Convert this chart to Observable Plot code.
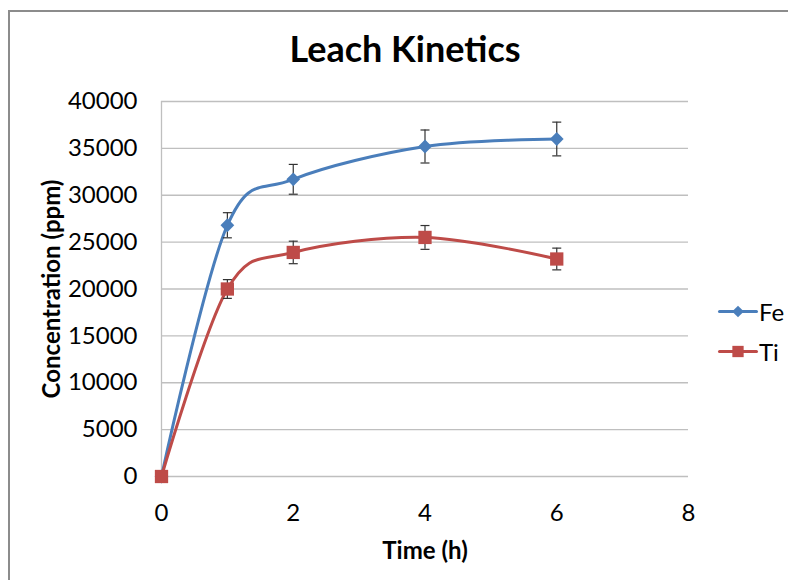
<!DOCTYPE html>
<html>
<head>
<meta charset="utf-8">
<script src="https://cdn.jsdelivr.net/npm/d3@7"></script>
<script src="https://cdn.jsdelivr.net/npm/@observablehq/plot@0.6"></script>
<style>
  html, body { margin: 0; padding: 0; background: #fff; }
  body { width: 788px; height: 580px; position: relative; overflow: hidden; font-family: Lato, "Open Sans", sans-serif; }
  #frame { position: absolute; left: 8px; top: 10px; width: 800px; height: 600px; border-left: 2px solid #8c8c8c; border-top: 2px solid #8c8c8c; box-sizing: border-box; }
  #title { position: absolute; left: 0; width: 810px; top: 26px; text-align: center; font-weight: bold; font-size: 36px; color: #000; white-space: nowrap; }
  #chart { position: absolute; left: 0; top: 0; }
  #legend { position: absolute; left: 719px; top: 291px; font-size: 24px; color: #000; white-space: nowrap; }
  .item { display: flex; align-items: center; height: 40px; }
  .item svg { margin-right: 3px; }
</style>
</head>
<body>
<div id="frame"></div>
<div id="chart"></div>
<div id="title">Leach Kinetics</div>
<div id="legend"></div>
<script>
const times = [0, 1, 2, 4, 6];
const feValues = [0, 26800, 31700, 35200, 36000];
const tiValues = [0, 20000, 23900, 25500, 23200];
const feErrors = [0, 1340, 1590, 1760, 1800];
const tiErrors = [0, 1000, 1200, 1270, 1160];
const xTicks = [0, 2, 4, 6, 8];
const yTicks = [0, 5000, 10000, 15000, 20000, 25000, 30000, 35000, 40000];
const seriesNames = ["Fe", "Ti"];
const seriesColors = ["#4A7EBB", "#BE4B48"];

const fe = times.map((t, i) => ({t, v: feValues[i], e: feErrors[i]}));
const ti = times.map((t, i) => ({t, v: tiValues[i], e: tiErrors[i]}));

const capSymbol = {draw(ctx) { ctx.moveTo(-4.5, 0); ctx.lineTo(4.5, 0); }};

function series(data, color, symbol, r) {
  const withErr = data.filter(d => d.e > 0);
  return [
    Plot.line(data, {x: "t", y: "v", stroke: color, strokeWidth: 3, curve: "cardinal"}),
    Plot.ruleX(withErr, {x: "t", y1: d => d.v - d.e, y2: d => d.v + d.e, stroke: "#333", strokeWidth: 1.2}),
    Plot.dot(withErr, {x: "t", y: d => d.v + d.e, symbol: capSymbol, stroke: "#333", strokeWidth: 1.2}),
    Plot.dot(withErr, {x: "t", y: d => d.v - d.e, symbol: capSymbol, stroke: "#333", strokeWidth: 1.2}),
    Plot.dot(data, {x: "t", y: "v", symbol, r, fill: color, stroke: "none"})
  ];
}

const chart = Plot.plot({
  width: 788,
  height: 580,
  marginLeft: 161,
  marginRight: 100,
  marginTop: 101,
  marginBottom: 104,
  style: {fontFamily: "Lato, 'Open Sans', sans-serif", fontSize: "24px", color: "#000", background: "transparent", overflow: "visible"},
  x: {domain: [0, 8], label: null},
  y: {domain: [0, 40000], label: null},
  marks: [
    Plot.gridY(yTicks, {stroke: "#bfbfbf", strokeOpacity: 1, strokeWidth: 1.3}),
    Plot.ruleX([0], {stroke: "#bfbfbf", strokeWidth: 1.3}),
    Plot.axisX({ticks: xTicks, tickSize: 0, tickPadding: 27, tickFormat: d => String(d), label: null, fontSize: 24}),
    Plot.axisY({ticks: yTicks, tickSize: 0, tickPadding: 24, tickFormat: d => String(d), label: null, fontSize: 24}),
    ...series(fe, seriesColors[0], "diamond2", 6.2),
    ...series(ti, seriesColors[1], "square", 7.5),
    Plot.text(["Time (h)"], {frameAnchor: "bottom", dy: 82, fontWeight: "bold", fontSize: 24}),
    Plot.text(["Concentration (ppm)"], {frameAnchor: "left", dx: -109, rotate: -90, textAnchor: "middle", fontWeight: "bold", fontSize: 24})
  ]
});
document.getElementById("chart").appendChild(chart);

// legend
const legend = document.getElementById("legend");
const symbols = ["diamond2", "square"];
const radii = [6.2, 7.5];
seriesNames.forEach((name, i) => {
  const item = document.createElement("div");
  item.className = "item";
  const sw = Plot.plot({
    width: 37, height: 20, margin: 0,
    x: {domain: [0, 1], axis: null}, y: {domain: [0, 1], axis: null},
    style: {background: "transparent", overflow: "visible"},
    marks: [
      Plot.line([[0, 0.5], [1, 0.5]], {stroke: seriesColors[i], strokeWidth: 3}),
      Plot.dot([[0.5, 0.5]], {symbol: symbols[i], r: radii[i] * 0.85, fill: seriesColors[i]})
    ]
  });
  item.appendChild(sw);
  const label = document.createElement("span");
  label.textContent = name;
  item.appendChild(label);
  legend.appendChild(item);
});
</script>
</body>
</html>
